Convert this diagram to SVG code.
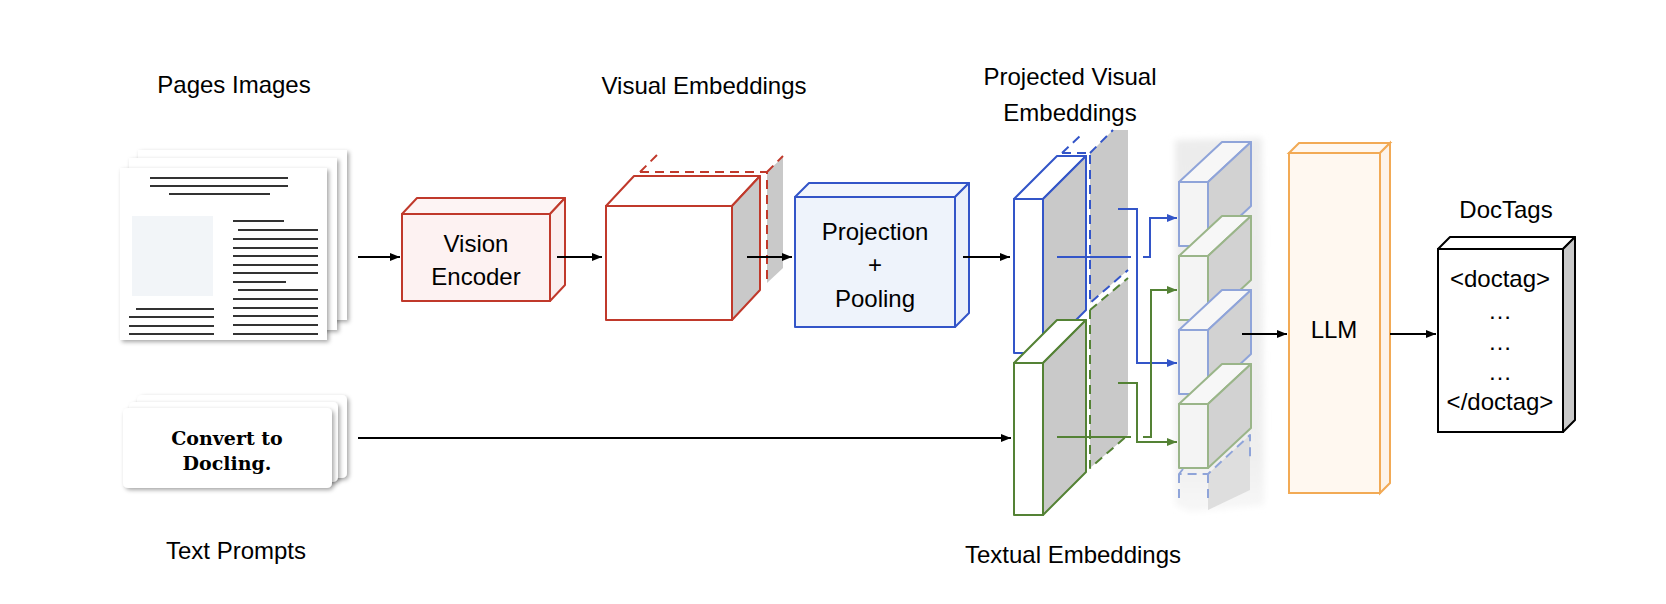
<svg xmlns="http://www.w3.org/2000/svg" width="1666" height="604" viewBox="0 0 1666 604">
<defs>
<style>
.lbl{font-family:"Liberation Sans",Arial,sans-serif;font-size:24px;fill:#000;text-anchor:middle}
.in{font-family:"Liberation Sans",Arial,sans-serif;font-size:24px;fill:#000;text-anchor:middle}
.pl{stroke:#333;stroke-width:2}
.red{stroke:#c0392b;stroke-width:2;stroke-linejoin:round}
.blu{stroke:#3355c8;stroke-width:2;stroke-linejoin:round}
.grn{stroke:#548235;stroke-width:2;stroke-linejoin:round}
.tb{stroke:#8fa4d9;stroke-width:2;stroke-linejoin:round}
.tg{stroke:#9ab589;stroke-width:2;stroke-linejoin:round}
.dash{stroke-dasharray:9 6;fill:none}
.side{fill:#c9c9c9}
.ar{stroke:#000;stroke-width:2;fill:none}
.arb{stroke:#3355c8;stroke-width:2;fill:none}
.arg{stroke:#548235;stroke-width:2;fill:none}
</style>
<marker id="ma" viewBox="0 0 10 8" refX="10" refY="4" markerWidth="10" markerHeight="8" markerUnits="userSpaceOnUse" orient="auto"><path d="M0,0 L10,4 L0,8 z" fill="#000"/></marker>
<marker id="mb" viewBox="0 0 10 8" refX="10" refY="4" markerWidth="10" markerHeight="8" markerUnits="userSpaceOnUse" orient="auto"><path d="M0,0 L10,4 L0,8 z" fill="#3355c8"/></marker>
<marker id="mg" viewBox="0 0 10 8" refX="10" refY="4" markerWidth="10" markerHeight="8" markerUnits="userSpaceOnUse" orient="auto"><path d="M0,0 L10,4 L0,8 z" fill="#548235"/></marker>
<filter id="sh" x="-10%" y="-10%" width="130%" height="130%"><feDropShadow dx="2" dy="2" stdDeviation="2" flood-color="#000" flood-opacity="0.35"/></filter>
<filter id="blur" x="-20%" y="-20%" width="140%" height="140%"><feGaussianBlur stdDeviation="3"/></filter>
<linearGradient id="colg" x1="0" y1="0" x2="0" y2="1"><stop offset="0" stop-color="#ececec"/><stop offset="0.85" stop-color="#efefef"/><stop offset="1" stop-color="#f7f7f7"/></linearGradient>
</defs>
<rect width="1666" height="604" fill="#fff"/>

<!-- labels -->
<g id="labels">
<text class="lbl" x="234" y="93">Pages Images</text>
<text class="lbl" x="704" y="94">Visual Embeddings</text>
<text class="lbl" x="1070" y="85">Projected Visual</text>
<text class="lbl" x="1070" y="121">Embeddings</text>
<text class="lbl" x="236" y="559">Text Prompts</text>
<text class="lbl" x="1073" y="563">Textual Embeddings</text>
<text class="lbl" x="1506" y="218">DocTags</text>
</g>

<!-- page images -->
<g id="pages">
<rect x="138" y="150" width="209" height="170" fill="#fff" filter="url(#sh)"/>
<rect x="129" y="158" width="208" height="172" fill="#fff" filter="url(#sh)"/>
<rect x="120" y="168" width="207" height="172" fill="#fff" filter="url(#sh)"/>
<g class="pl">
<line x1="150" y1="178" x2="288" y2="178"/><line x1="150" y1="186" x2="288" y2="186"/><line x1="169" y1="194" x2="270" y2="194"/>
<line x1="233" y1="221" x2="284" y2="221"/>
<line x1="238" y1="230" x2="318" y2="230"/>
<line x1="233" y1="239" x2="318" y2="239"/>
<line x1="233" y1="248" x2="318" y2="248"/>
<line x1="233" y1="256" x2="318" y2="256"/>
<line x1="233" y1="265" x2="318" y2="265"/>
<line x1="233" y1="273" x2="318" y2="273"/>
<line x1="233" y1="282" x2="286" y2="282"/>
<line x1="238" y1="290" x2="318" y2="290"/>
<line x1="233" y1="299" x2="318" y2="299"/>
<line x1="233" y1="308" x2="318" y2="308"/>
<line x1="233" y1="316" x2="318" y2="316"/>
<line x1="233" y1="325" x2="318" y2="325"/>
<line x1="233" y1="334" x2="318" y2="334"/>
<line x1="136" y1="309" x2="214" y2="309"/>
<line x1="129" y1="317" x2="214" y2="317"/>
<line x1="129" y1="326" x2="214" y2="326"/>
<line x1="129" y1="334" x2="214" y2="334"/>
</g>
<rect x="132" y="216" width="81" height="80" fill="#f2f5f8"/>
</g>

<!-- text prompts -->
<g id="prompts">
<rect x="137" y="395" width="210" height="83" rx="5" fill="#fff" filter="url(#sh)"/>
<rect x="129" y="402" width="209" height="80" rx="5" fill="#fff" filter="url(#sh)"/>
<rect x="123" y="408" width="209" height="80" rx="5" fill="#fff" filter="url(#sh)"/>
<text x="227" y="445" font-family="'DejaVu Serif','Liberation Serif',serif" font-weight="bold" font-size="19" text-anchor="middle">Convert to</text>
<text x="227" y="470" font-family="'DejaVu Serif','Liberation Serif',serif" font-weight="bold" font-size="19" text-anchor="middle">Docling.</text>
</g>

<!-- vision encoder -->
<g id="vision-encoder">
<polygon class="red" points="402,214 417,198 565,198 550,214" fill="#fdf4f4"/>
<polygon class="red" points="550,214 565,198 565,285 550,301" fill="#fbeeee"/>
<rect class="red" x="402" y="214" width="148" height="87" fill="#fdf2f2"/>
<text class="in" x="476" y="252">Vision</text>
<text class="in" x="476" y="285">Encoder</text>
</g>

<!-- visual embeddings -->
<g id="visual-embeddings">
<polygon points="767,172 783,157 783,268 767,283" fill="#c9c9c9"/>
<path class="red dash" d="M640,172 L658,154 M640,172 H767 V283 M767,172 L783,156"/>
<polygon class="red" points="606,206 634,176 760,176 732,206" fill="#fff"/>
<polygon class="red side" points="732,206 760,176 760,290 732,320"/>
<rect class="red" x="606" y="206" width="126" height="114" fill="#fff"/>
</g>

<!-- projection + pooling -->
<g id="projection">
<polygon class="blu" points="795,197 809,183 969,183 955,197" fill="#f2f6fc"/>
<polygon class="blu" points="955,197 969,183 969,313 955,327" fill="#eaf0fa"/>
<rect class="blu" x="795" y="197" width="160" height="130" fill="#eef3fb"/>
<text class="in" x="875" y="240">Projection</text>
<text class="in" x="875" y="273">+</text>
<text class="in" x="875" y="307">Pooling</text>
</g>

<!-- projected visual embeddings -->
<g id="projected-visual">
<polygon points="1090,153 1113,130 1128,130 1128,270 1090,303" fill="#c9c9c9"/>
<path class="blu dash" d="M1062,153 L1080,136 M1062,153 H1090 V303 L1128,270 M1090,153 L1113,130"/>
<polygon class="blu" points="1014,199 1057,156 1086,156 1043,199" fill="#fff"/>
<polygon class="blu side" points="1043,199 1086,156 1086,310 1043,353"/>
<rect class="blu" x="1014" y="199" width="29" height="154" fill="#fff"/>
</g>

<!-- textual embeddings -->
<g id="textual">
<polygon points="1090,310 1128,278 1128,435 1090,468" fill="#c9c9c9"/>
<path class="grn dash" d="M1090,310 L1128,278 M1090,310 V468 L1128,435"/>
<polygon class="grn" points="1014,363 1057,320 1086,320 1043,363" fill="#fff"/>
<polygon class="grn side" points="1043,363 1086,320 1086,472 1043,515"/>
<rect class="grn" x="1014" y="363" width="29" height="152" fill="#fff"/>
</g>

<!-- token sequence -->
<g id="tokens">
<polygon points="1175,140 1262,138 1264,505 1190,512 1175,505" fill="url(#colg)" filter="url(#blur)"/>
<g>
<polygon class="tb" points="1179,182 1222,142 1251,142 1208,182" fill="#f7f7f7"/>
<polygon class="tb" points="1208,182 1251,142 1251,206 1208,246" fill="#d2d2d2"/>
<rect class="tb" x="1179" y="182" width="29" height="64" fill="#f4f4f4"/>
</g>
<g>
<polygon class="tg" points="1179,256 1222,216 1251,216 1208,256" fill="#f7f7f7"/>
<polygon class="tg" points="1208,256 1251,216 1251,280 1208,320" fill="#d2d2d2"/>
<rect class="tg" x="1179" y="256" width="29" height="64" fill="#f4f4f4"/>
</g>
<g>
<polygon class="tb" points="1179,330 1222,290 1251,290 1208,330" fill="#f7f7f7"/>
<polygon class="tb" points="1208,330 1251,290 1251,354 1208,394" fill="#d2d2d2"/>
<rect class="tb" x="1179" y="330" width="29" height="64" fill="#f4f4f4"/>
</g>
<g>
<polygon class="tg" points="1179,404 1222,364 1251,364 1208,404" fill="#f7f7f7"/>
<polygon class="tg" points="1208,404 1251,364 1251,428 1208,468" fill="#d2d2d2"/>
<rect class="tg" x="1179" y="404" width="29" height="64" fill="#f4f4f4"/>
</g>
<polygon points="1208,474 1250,435 1250,490 1208,510" fill="#dedede"/>
<path class="tb dash" d="M1183,469 L1179,474 H1208 L1250,435 V458 M1179,474 V503 M1208,474 V503" stroke-dasharray="7 6"/>
</g>

<!-- LLM -->
<g id="llm">
<polygon points="1289,153 1299,143 1390,143 1380,153" fill="#fff8f0" stroke="#f2aa55" stroke-width="2"/>
<polygon points="1380,153 1390,143 1390,483 1380,493" fill="#fdf3e8" stroke="#f2aa55" stroke-width="2"/>
<rect x="1289" y="153" width="91" height="340" fill="#fff8f0" stroke="#f2aa55" stroke-width="2"/>
<text class="in" x="1334" y="338" font-size="25">LLM</text>
</g>

<!-- DocTags -->
<g id="doctags">
<polygon points="1438,249 1450,237 1575,237 1563,249" fill="#fff" stroke="#000" stroke-width="2" stroke-linejoin="round"/>
<polygon points="1563,249 1575,237 1575,420 1563,432" fill="#c9c9c9" stroke="#000" stroke-width="2" stroke-linejoin="round"/>
<rect x="1438" y="249" width="125" height="183" fill="#fff" stroke="#000" stroke-width="2"/>
<text class="in" x="1500" y="287" font-size="23">&lt;doctag&gt;</text>
<text class="in" x="1500" y="319" font-size="23">…</text>
<text class="in" x="1500" y="350" font-size="23">…</text>
<text class="in" x="1500" y="380" font-size="23">…</text>
<text class="in" x="1500" y="410" font-size="23">&lt;/doctag&gt;</text>
</g>

<!-- connectors -->
<g id="connectors">
<line class="ar" x1="358" y1="257" x2="400" y2="257" marker-end="url(#ma)"/>
<line class="ar" x1="557" y1="257" x2="602" y2="257" marker-end="url(#ma)"/>
<line class="ar" x1="747" y1="257" x2="792" y2="257" marker-end="url(#ma)"/>
<line class="ar" x1="963" y1="257" x2="1010" y2="257" marker-end="url(#ma)"/>
<line class="ar" x1="358" y1="438" x2="1011" y2="438" marker-end="url(#ma)"/>
<line class="ar" x1="1242" y1="334" x2="1287" y2="334" marker-end="url(#ma)"/>
<line class="ar" x1="1390" y1="334" x2="1436" y2="334" marker-end="url(#ma)"/>
<path class="arb" d="M1118,209 H1137 V363 H1177" marker-end="url(#mb)"/>
<path class="arb" d="M1057,257 H1131"/>
<path class="arb" d="M1143,257 H1150 V218 H1177" marker-end="url(#mb)"/>
<path class="arg" d="M1118,383 H1137 V442 H1177" marker-end="url(#mg)"/>
<path class="arg" d="M1057,437 H1131"/>
<path class="arg" d="M1143,437 H1151 V290 H1177" marker-end="url(#mg)"/>
</g>
</svg>
